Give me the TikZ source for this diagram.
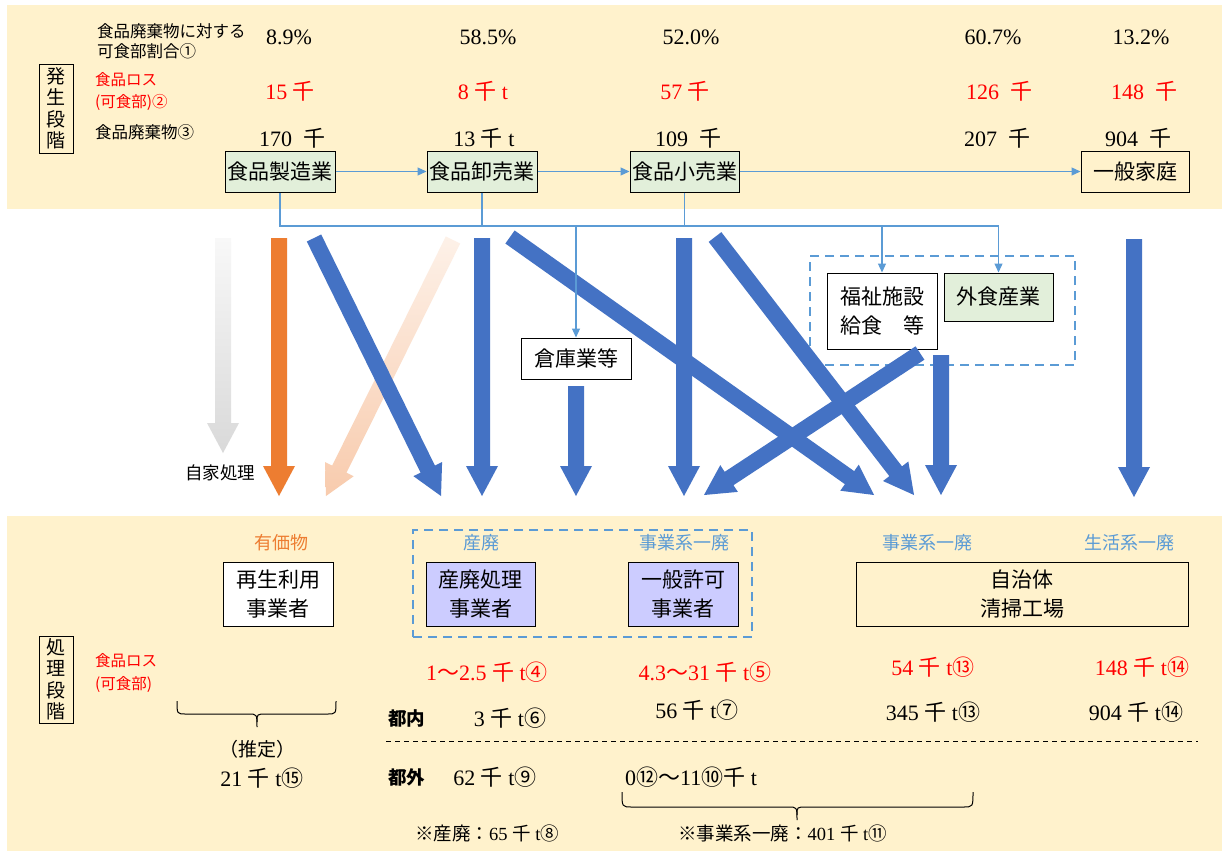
\documentclass[tikz,border=0pt]{standalone}
\usepackage{fontspec}
\setmainfont{Liberation Serif}
\newfontfamily\jp{Noto Sans CJK JP}
\usetikzlibrary{arrows.meta,calc}
\definecolor{band}{HTML}{FFF2CC}
\definecolor{greenbox}{HTML}{E2EFDA}
\definecolor{lavbox}{HTML}{CCCCFF}
\definecolor{thinblue}{HTML}{5B9BD5}
\definecolor{fatblue}{HTML}{4472C4}
\definecolor{fatorange}{HTML}{ED7D31}
\definecolor{lightorange}{HTML}{F8CBAD}
\definecolor{paleorange}{HTML}{FDF1E8}
\definecolor{grayD}{HTML}{D9D9D9}
\definecolor{grayL}{HTML}{F8F8F8}
\definecolor{redtxt}{HTML}{FF0000}
\newcommand\sen{{\jp 千}}
\newcommand\cn[1]{{\jp #1}}
\newcommand\tl{{\jp ～}}
\newcommand\fatarrow[3]{%
  \coordinate (fa-h) at ($(#3)!30pt!(#2)$);
  \path[#1] ($(#2)!8pt!90:(#3)$) -- ($(fa-h)!8pt!-90:(#2)$) -- ($(fa-h)!16pt!-90:(#2)$) -- (#3)
    -- ($(fa-h)!16pt!90:(#2)$) -- ($(fa-h)!8pt!90:(#2)$) -- ($(#2)!8pt!-90:(#3)$) -- cycle;}
\tikzset{
  box/.style={draw=black, line width=1pt, inner sep=0pt, align=center,
    font=\jp\fontsize{21}{29}\selectfont},
  lbl/.style={inner sep=0pt, anchor=west, align=left, font=\jp\fontsize{16.5}{20}\selectfont},
  num/.style={inner sep=0pt, font=\fontsize{22}{26}\selectfont},
  bluelbl/.style={inner sep=0pt, text=thinblue, font=\jp\fontsize{18}{22}\selectfont},
  conn/.style={draw=thinblue, line width=1.2pt},
  connarr/.style={conn, -{Triangle[length=9pt,width=8pt]}},
  grp/.style={draw=thinblue, line width=2.5pt, dash pattern=on 9pt off 6pt},
  bluearr/.style={fill=fatblue},
  brace/.style={draw=black, line width=1pt},
  vbox/.style={draw=black, line width=1pt, inner sep=0pt, align=center,
    font=\jp\fontsize{19}{21.5}\selectfont, minimum width=34pt},
}
\begin{document}
\begin{tikzpicture}[x=1pt,y=-1pt]
\useasboundingbox (0,0) rectangle (1226,852);
\fill[white] (0,0) rectangle (1226,852);
\fill[band] (7,5) rectangle (1222,209);
\fill[band] (7,516) rectangle (1222,851);

% ---------- top band ----------
\node[vbox, minimum height=89pt] (hassei) at (56,108.5) {発\\生\\段\\階};
\node[lbl] (lab1) at (97,41) {食品廃棄物に対する\\可食部割合①};
\node[lbl, text=redtxt, font=\jp\fontsize{15.5}{22}\selectfont] (lab2) at (95,91) {食品ロス\\(可食部)②};
\node[lbl] (lab3) at (95,132) {食品廃棄物③};

\node[num] (p1) at (289,37) {8.9\%};
\node[num] (p2) at (488,37) {58.5\%};
\node[num] (p3) at (691,37) {52.0\%};
\node[num] (p4) at (993,37) {60.7\%};
\node[num] (p5) at (1141,37) {13.2\%};

\node[num, text=redtxt] (r1) at (290,91) {15 \sen};
\node[num, text=redtxt] (r2) at (483,91) {8 \sen{} t};
\node[num, text=redtxt] (r3) at (685,91) {57 \sen};
\node[num, text=redtxt] (r4) at (999,91) {126 \ \sen};
\node[num, text=redtxt] (r5) at (1144,91) {148 \ \sen};

\node[num] (w1) at (292,138) {170 \ \sen};
\node[num] (w2) at (484,138) {13 \sen{} t};
\node[num] (w3) at (688,138) {109 \ \sen};
\node[num] (w4) at (997,138) {207 \ \sen};
\node[num] (w5) at (1138,138) {904 \ \sen};

\node[box, fill=greenbox, minimum width=110pt, minimum height=41pt] (mfg) at (280,171.5) {食品製造業};
\node[box, fill=greenbox, minimum width=110pt, minimum height=41pt] (whl) at (482,171.5) {食品卸売業};
\node[box, fill=greenbox, minimum width=109pt, minimum height=41pt] (ret) at (684.5,171.5) {食品小売業};
\node[box, minimum width=108pt, minimum height=41pt] (home) at (1135,171.5) {一般家庭};

% ---------- middle boxes ----------
\node[box, fill=white, minimum width=110pt, minimum height=41pt] (souko) at (576,358.5) {倉庫業等};
\node[box, fill=white, minimum width=110pt, minimum height=76pt] (fuku) at (882,311) {福祉施設\\給食　等};
\node[box, fill=greenbox, minimum width=109pt, minimum height=48pt] (gai) at (998.5,297) {外食産業};
\node[grp, minimum width=265pt, minimum height=109pt, inner sep=0pt] (grp1) at (942.5,310.5) {};

% ---------- fat arrows ----------
\coordinate (a1s) at (223,238); \coordinate (a1t) at (223,453);
\coordinate (a2s) at (279,238); \coordinate (a2t) at (279,496);
\coordinate (a3s) at (314,238); \coordinate (a3t) at (441,496);
\coordinate (a4s) at (453,240); \coordinate (a4t) at (326,496);
\coordinate (a5s) at (482,238); \coordinate (a5t) at (482,496);
\coordinate (a6s) at (510,237); \coordinate (a6t) at (874,495);
\coordinate (a7s) at (576,386); \coordinate (a7t) at (576,496);
\coordinate (a8s) at (684,238); \coordinate (a8t) at (684,496);
\coordinate (a9s) at (715,237); \coordinate (a9t) at (914,495);
\coordinate (a10s) at (920,353); \coordinate (a10t) at (704,495);
\coordinate (a11s) at (941,355); \coordinate (a11t) at (941,495);
\coordinate (a12s) at (1134,239); \coordinate (a12t) at (1134,497);

\fatarrow{top color=grayL, bottom color=grayD}{a1s}{a1t}
\fatarrow{fill=fatorange}{a2s}{a2t}
\fatarrow{top color=paleorange, bottom color=lightorange}{a4s}{a4t}
\fatarrow{bluearr}{a3s}{a3t}
\fatarrow{bluearr}{a5s}{a5t}
\fatarrow{bluearr}{a6s}{a6t}
\fatarrow{bluearr}{a7s}{a7t}
\fatarrow{bluearr}{a8s}{a8t}
\fatarrow{bluearr}{a9s}{a9t}
\fatarrow{bluearr}{a10s}{a10t}
\fatarrow{bluearr}{a11s}{a11t}
\fatarrow{bluearr}{a12s}{a12t}

\node[inner sep=0pt, font=\jp\fontsize{17.5}{20}\selectfont] (jika) at (220,473) {自家処理};

% ---------- thin connectors ----------
\coordinate (busR) at (998.5,226);
\draw[connarr] (mfg.east) -- (whl.west);
\draw[connarr] (whl.east) -- (ret.west);
\draw[connarr] (ret.east) -- (home.west);
\draw[connarr] (mfg.south) |- (busR) -- (gai.north);
\draw[conn] (whl.south) -- (whl.south |- busR);
\draw[conn] (ret.south) -- (ret.south |- busR);
\draw[connarr] (souko.north |- busR) -- (souko.north);
\draw[connarr] (fuku.north |- busR) -- (fuku.north);

% ---------- bottom band ----------
\node[vbox, minimum height=87pt] (shori) at (56,679.5) {処\\理\\段\\階};
\node[lbl, text=redtxt, font=\jp\fontsize{15.5}{23}\selectfont] (lab4) at (95,672.5) {食品ロス\\(可食部)};

\node[bluelbl, text=fatorange] (yuka) at (281,543) {有価物};
\node[bluelbl] (bl1) at (481,543) {産廃};
\node[bluelbl] (bl2) at (684,543) {事業系一廃};
\node[bluelbl] (bl3) at (927,543) {事業系一廃};
\node[bluelbl] (bl4) at (1129,543) {生活系一廃};

\node[box, fill=white, minimum width=110pt, minimum height=64pt] (saisei) at (278,594) {再生利用\\事業者};
\node[box, fill=lavbox, minimum width=109pt, minimum height=64pt] (sanpai) at (480.5,594) {産廃処理\\事業者};
\node[box, fill=lavbox, minimum width=110pt, minimum height=64pt] (ippan) at (683,594) {一般許可\\事業者};
\node[box, minimum width=332pt, minimum height=64pt] (jichi) at (1022,594) {自治体\\清掃工場};
\node[grp, minimum width=339pt, minimum height=107pt, inner sep=0pt] (grp2) at (582.5,583.5) {};

\node[num, text=redtxt] (b1) at (487,672) {1\tl 2.5 \sen{} t\cn{④}};
\node[num, text=redtxt] (b2) at (705,672) {4.3\tl 31 \sen{} t\cn{⑤}};
\node[num, text=redtxt] (b3) at (933,667) {54 \sen{} t\cn{⑬}};
\node[num, text=redtxt] (b4) at (1142,667) {148 \sen{} t\cn{⑭}};

\node[lbl, font=\jp\bfseries\fontsize{18.5}{20}\selectfont] (tonai) at (388,718) {都内};
\node[num] (b5) at (510,718) {3 \sen{} t\cn{⑥}};
\node[num] (b6) at (697,710) {56 \sen{} t\cn{⑦}};
\node[num] (b7) at (933,712) {345 \sen{} t\cn{⑬}};
\node[num] (b8) at (1136,712) {904 \sen{} t\cn{⑭}};

\coordinate (dl) at (386,741); \coordinate (dr) at (1198,741);
\draw[black, line width=0.8pt, dash pattern=on 5pt off 4pt] (dl) -- (dr);

\node[lbl, font=\jp\bfseries\fontsize{18.5}{20}\selectfont] (togai) at (388,777) {都外};
\node[num] (b9) at (495,777) {62 \sen{} t\cn{⑨}};
\node[num, anchor=west] (b10) at (625,777) {0\cn{⑫}\tl 11\cn{⑩}\sen{} t};

\node[inner sep=0pt, font=\jp\fontsize{19}{22}\selectfont] (suitei) at (257,749) {（推定）};
\node[num] (b11) at (262,778) {21 \sen{} t\cn{⑮}};

\node[num, anchor=west, font=\fontsize{18.5}{20}\selectfont] (note1) at (415,833) {\jp ※産廃：\rmfamily 65 \sen{} t\cn{⑧}};
\node[num, anchor=west, font=\fontsize{18.5}{20}\selectfont] (note2) at (678,833) {\jp ※事業系一廃：\rmfamily 401 \sen{} t\cn{⑪}};

% braces
\draw[brace] (177,701) .. controls (177,714) .. (186,714) -- (248,714) .. controls (257,714) .. (257,727);
\draw[brace] (336,701) .. controls (336,714) .. (327,714) -- (266,714) .. controls (257,714) .. (257,722);
\draw[brace] (622,792) .. controls (622,807) .. (632,807) -- (788,807) .. controls (797,807) .. (797,820);
\draw[brace] (973,792) .. controls (973,807) .. (963,807) -- (806,807) .. controls (797,807) .. (797,815);
\end{tikzpicture}
\end{document}
